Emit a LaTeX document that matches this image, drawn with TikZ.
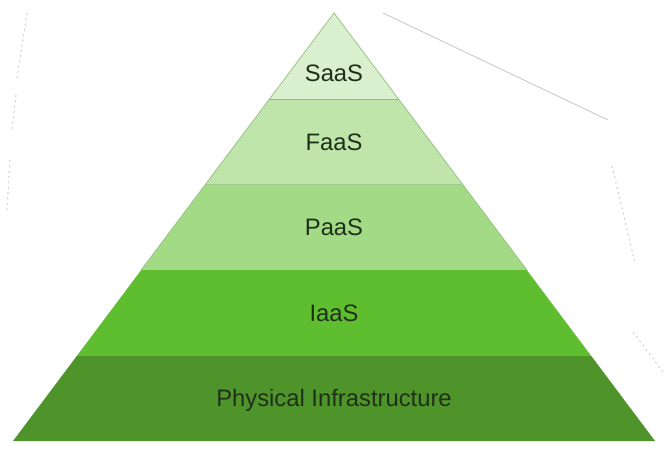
\documentclass[tikz,border=0pt]{standalone}
\usepackage{fontspec}
\setmainfont{Liberation Sans}
\begin{document}
\begin{tikzpicture}[x=0.75pt,y=-0.75pt,
  layer/.style={line width=0.6pt},
  lbl/.style={anchor=base,inner sep=0pt,text=labeltext,font=\fontsize{17.85}{20}\selectfont},
  faint/.style={draw=gray!45,line width=0.6pt},
  faintdots/.style={draw=gray!35,line width=0.8pt,dash pattern=on 1.5pt off 2.5pt}]
\definecolor{saas}{HTML}{D9EFCD}
\definecolor{faas}{HTML}{BFE5AB}
\definecolor{paas}{HTML}{A2DA86}
\definecolor{iaas}{HTML}{5FBE2F}
\definecolor{phys}{HTML}{4E942A}
\definecolor{labeltext}{HTML}{1F301A}
\definecolor{sep}{HTML}{8FBE7A}
\useasboundingbox (0,0) rectangle (664,450);
\fill[white] (0,0) rectangle (664,450);
% apex (334,13); base y=441, x 13..655 ; slope 321/428
% layers: boundaries y = 13, 99, 184, 270, 356, 441
\fill[saas] (334,13) -- (398.5,99) -- (269.5,99) -- cycle;
\fill[faas] (269.5,99) -- (398.5,99) -- (462.3,184) -- (205.7,184) -- cycle;
\fill[paas] (205.7,184) -- (462.3,184) -- (526.8,270) -- (141.2,270) -- cycle;
\fill[iaas] (141.2,270) -- (526.8,270) -- (591.3,356) -- (76.8,356) -- cycle;
\fill[phys] (76.8,356) -- (591.3,356) -- (655,441) -- (13,441) -- cycle;
\draw[sep,layer] (269.5,99) -- (398.5,99);
\draw[sep!80!white,layer] (205.7,184) -- (462.3,184);
\draw[draw=sep,line width=0.5pt] (141.2,270) -- (205.7,184) -- (269.5,99) -- (334,13) -- (398.5,99) -- (462.3,184) -- (526.8,270);
\node[lbl] (saasl) at (334,81) {SaaS};
\node[lbl] (faasl) at (334,150) {FaaS};
\node[lbl] (paasl) at (334,235) {PaaS};
\node[lbl] (iaasl) at (334,321.5) {IaaS};
\node[lbl] (physl) at (334,406) {Physical Infrastructure};
% faint background strokes
\draw[faint] (383,13) -- (608,120);
\draw[faintdots] (612,166) -- (635,263);
\draw[faintdots] (633,332) -- (663,372);
\draw[faintdots] (27,13) -- (17,78);
\draw[faintdots] (16,95) -- (12,130);
\draw[faintdots] (10,160) -- (7,210);
\end{tikzpicture}
\end{document}
